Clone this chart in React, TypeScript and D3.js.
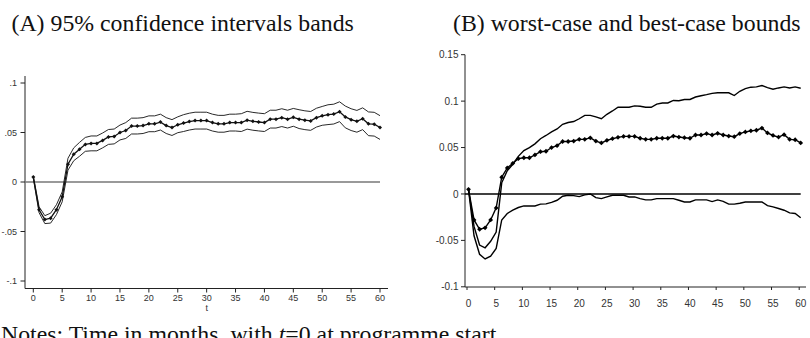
import React from "react";
import * as d3 from "d3";

const months = d3.range(0, 61);

const pointEstimate = [
  0.005, -0.028, -0.038, -0.0365, -0.028, -0.015, 0.018, 0.028, 0.033, 0.038,
  0.039, 0.039, 0.042, 0.0455, 0.046, 0.05, 0.052, 0.0565, 0.0565, 0.057,
  0.0588, 0.0588, 0.0605, 0.057, 0.055, 0.0578, 0.0595, 0.061, 0.062, 0.062,
  0.062, 0.06, 0.0588, 0.0588, 0.06, 0.06, 0.06, 0.0624, 0.0613, 0.0606,
  0.06, 0.0635, 0.0635, 0.065, 0.0635, 0.0653, 0.0635, 0.0624, 0.0617, 0.065,
  0.0668, 0.068, 0.0686, 0.071, 0.0657, 0.063, 0.0613, 0.0639, 0.0588, 0.0584,
  0.055,
];

const ciUpper = [
  0.006, -0.025, -0.034, -0.0315, -0.023, -0.01, 0.024, 0.0345, 0.04, 0.045,
  0.0465, 0.0465, 0.0495, 0.053, 0.0535, 0.0575, 0.06, 0.0645, 0.0645, 0.065,
  0.0668, 0.0668, 0.0685, 0.065, 0.063, 0.0658, 0.068, 0.0695, 0.0705, 0.0705,
  0.0705, 0.0685, 0.0673, 0.0673, 0.0685, 0.0685, 0.069, 0.0714, 0.0703, 0.0696,
  0.069, 0.0725, 0.0725, 0.074, 0.0725, 0.0743, 0.073, 0.0719, 0.0712, 0.0745,
  0.0763, 0.078, 0.0786, 0.081, 0.0767, 0.074, 0.0723, 0.0749, 0.0708, 0.0704,
  0.067,
];

const ciLower = [
  0.004, -0.031, -0.042, -0.0415, -0.033, -0.02, 0.012, 0.0215, 0.026, 0.031,
  0.0315, 0.0315, 0.0345, 0.038, 0.0385, 0.0425, 0.044, 0.0485, 0.0485, 0.049,
  0.0508, 0.0508, 0.0525, 0.049, 0.047, 0.0498, 0.051, 0.0525, 0.0535, 0.0535,
  0.0535, 0.0515, 0.0503, 0.0503, 0.0515, 0.0515, 0.051, 0.0534, 0.0523, 0.0516,
  0.051, 0.0545, 0.0545, 0.056, 0.0545, 0.0563, 0.054, 0.0529, 0.0522, 0.0555,
  0.0573, 0.058, 0.0586, 0.061, 0.0547, 0.052, 0.0503, 0.0529, 0.0468, 0.0464,
  0.043,
];

const bestCase = [
  0.005, -0.035, -0.055, -0.058, -0.051, -0.041, 0.012, 0.025, 0.032, 0.0405,
  0.0467, 0.05, 0.054, 0.0595, 0.063, 0.0668, 0.07, 0.075, 0.077, 0.078,
  0.081, 0.0847, 0.0847, 0.083, 0.081, 0.0858, 0.0894, 0.0934, 0.0934, 0.0934,
  0.0949, 0.0945, 0.0934, 0.0934, 0.0967, 0.098, 0.098, 0.1007, 0.1004, 0.1018,
  0.1018, 0.1044, 0.1058, 0.107, 0.1084, 0.109, 0.109, 0.109, 0.106, 0.1106,
  0.1135, 0.115, 0.1153, 0.1168, 0.1146, 0.1128, 0.1142, 0.1153, 0.1142, 0.1153,
  0.1139,
];

const worstCase = [
  0.005, -0.045, -0.065, -0.07, -0.067, -0.0586, -0.028, -0.021, -0.0175, -0.0146,
  -0.0129, -0.0129, -0.0129, -0.011, -0.0107, -0.009, -0.0068, -0.0025, -0.0014, -0.0018,
  -0.0029, -0.001, 0, -0.004, -0.005, -0.0032, -0.0014, -0.0014, -0.0014, -0.0032,
  -0.0032, -0.005, -0.0064, -0.0064, -0.005, -0.005, -0.005, -0.005, -0.0068, -0.0086,
  -0.0086, -0.0064, -0.0064, -0.0064, -0.0082, -0.0064, -0.0079, -0.011, -0.011, -0.01,
  -0.0086, -0.0086, -0.0086, -0.0086, -0.0125, -0.0139, -0.0157, -0.0175, -0.0204, -0.021,
  -0.0257,
];

const xTicks = [0, 5, 10, 15, 20, 25, 30, 35, 40, 45, 50, 55, 60];
const yTicksA = [-0.1, -0.05, 0, 0.05, 0.1];
const yTickLabelsA = ["-.1", "-.05", "0", ".05", ".1"];
const yTicksB = [-0.1, -0.05, 0, 0.05, 0.1, 0.15];
const yTickLabelsB = ["-0.1", "-0.05", "0", "0.05", "0.1", "0.15"];

const titleA = "(A) 95% confidence intervals bands";
const titleB = "(B) worst-case and best-case bounds";

const serif = "'Liberation Serif', 'Times New Roman', serif";
const sans = "'Liberation Sans', Arial, sans-serif";

function diamond(cx: number, cy: number, r: number) {
  return `M${cx},${cy - r}L${cx + r},${cy}L${cx},${cy + r}L${cx - r},${cy}Z`;
}

export default function App() {
  // Panel A scales
  const xA = d3.scaleLinear().domain([0, 60]).range([33.3, 380]);
  const yA = d3.scaleLinear().domain([-0.1, 0.1]).range([281, 83]);
  // Panel B scales
  const xB = d3.scaleLinear().domain([0, 60]).range([468.5, 800.7]);
  const yB = d3.scaleLinear().domain([-0.1, 0.15]).range([286.8, 54.7]);

  const lineA = (arr: number[]) =>
    d3.line<number>().x((_, i) => xA(months[i])).y((d) => yA(d))(arr) || "";
  const lineB = (arr: number[]) =>
    d3.line<number>().x((_, i) => xB(months[i])).y((d) => yB(d))(arr) || "";

  const axA = { left: 25, top: 76, bottom: 288.5, right: 388 };
  const axB = { left: 465, top: 54.7, bottom: 287, right: 806 };

  return (
    <svg
      width={810}
      height={338}
      style={{ position: "absolute", left: 0, top: 0, background: "#fff" }}
    >
      <rect x={0} y={0} width={810} height={338} fill="#fff" />

      {/* Titles */}
      <text x={11.5} y={31} fontFamily={serif} fontSize={23.8} fill="#111">
        {titleA}
      </text>
      <text x={453} y={31} fontFamily={serif} fontSize={23.8} fill="#111">
        {titleB}
      </text>

      {/* ---------- Panel A ---------- */}
      <g>
        <line x1={axA.left} x2={axA.left} y1={axA.top} y2={axA.bottom} stroke="#222" strokeWidth={1} />
        <line x1={axA.left} x2={axA.right} y1={axA.bottom} y2={axA.bottom} stroke="#222" strokeWidth={1} />
        {yTicksA.map((v, i) => (
          <g key={"ya" + i}>
            <line x1={20.5} x2={axA.left} y1={yA(v)} y2={yA(v)} stroke="#222" strokeWidth={1} />
            <text x={17} y={yA(v) + 3.2} textAnchor="end" fontFamily={sans} fontSize={9} fill="#333">
              {yTickLabelsA[i]}
            </text>
          </g>
        ))}
        {xTicks.map((t) => (
          <g key={"xa" + t}>
            <line x1={xA(t)} x2={xA(t)} y1={axA.bottom} y2={axA.bottom + 4} stroke="#222" strokeWidth={1} />
            <text x={xA(t)} y={300.8} textAnchor="middle" fontFamily={sans} fontSize={9} fill="#333">
              {t}
            </text>
          </g>
        ))}
        <text x={xA(30)} y={310.5} textAnchor="middle" fontFamily={sans} fontSize={9} fill="#333">
          t
        </text>
        <line x1={axA.left} x2={xA(60)} y1={yA(0)} y2={yA(0)} stroke="#777" strokeWidth={1.5} />
        <path d={lineA(ciUpper)} fill="none" stroke="#111" strokeWidth={0.9} />
        <path d={lineA(ciLower)} fill="none" stroke="#111" strokeWidth={0.9} />
        <path d={lineA(pointEstimate)} fill="none" stroke="#111" strokeWidth={1.3} />
        {pointEstimate.map((v, i) => (
          <path key={"ma" + i} d={diamond(xA(months[i]), yA(v), 2)} fill="#111" />
        ))}
      </g>

      {/* ---------- Panel B ---------- */}
      <g>
        <line x1={axB.left} x2={axB.left} y1={axB.top} y2={axB.bottom} stroke="#222" strokeWidth={1} />
        <line x1={axB.left} x2={axB.right} y1={axB.bottom} y2={axB.bottom} stroke="#222" strokeWidth={1} />
        {yTicksB.map((v, i) => (
          <g key={"yb" + i}>
            <line x1={461} x2={axB.left} y1={yB(v)} y2={yB(v)} stroke="#222" strokeWidth={1} />
            <text x={458.5} y={yB(v) + 3.6} textAnchor="end" fontFamily={sans} fontSize={10} fill="#333">
              {yTickLabelsB[i]}
            </text>
          </g>
        ))}
        {xTicks.map((t) => (
          <g key={"xb" + t}>
            <line x1={xB(t) - 1.5} x2={xB(t) - 1.5} y1={axB.bottom} y2={axB.bottom + 3} stroke="#222" strokeWidth={1} />
            <text x={xB(t)} y={307.3} textAnchor="middle" fontFamily={sans} fontSize={10} fill="#333">
              {t}
            </text>
          </g>
        ))}
        <line x1={axB.left} x2={xB(60)} y1={yB(0)} y2={yB(0)} stroke="#000" strokeWidth={1.5} />
        <path d={lineB(bestCase)} fill="none" stroke="#000" strokeWidth={1.4} />
        <path d={lineB(worstCase)} fill="none" stroke="#000" strokeWidth={1.4} />
        <path d={lineB(pointEstimate)} fill="none" stroke="#000" strokeWidth={1.4} />
        {pointEstimate.map((v, i) => (
          <path key={"mb" + i} d={diamond(xB(months[i]), yB(v), 2.4)} fill="#000" />
        ))}
      </g>

      {/* Notes */}
      <text x={1} y={342.4} fontFamily={serif} fontSize={23.8} fill="#111">
        Notes: Time in months, with <tspan fontStyle="italic">t</tspan>=0 at programme start
      </text>
    </svg>
  );
}
